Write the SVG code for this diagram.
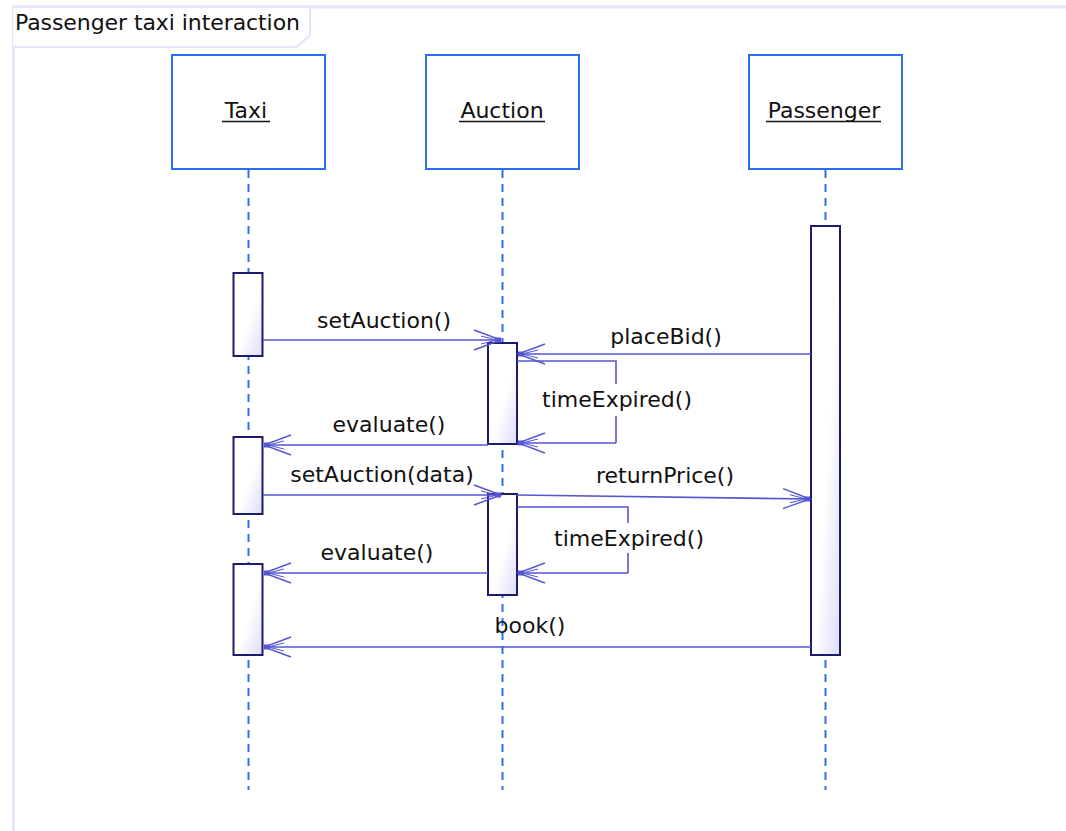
<svg xmlns="http://www.w3.org/2000/svg" width="1066" height="831" viewBox="0 0 1066 831">
<style>
text{font-family:"DejaVu Sans","Liberation Sans",sans-serif;font-size:22px;fill:#111;}
.lbl{text-anchor:middle;}
.head{fill:#fff;stroke:#2a6ef0;stroke-width:2;}
.life{stroke:#2f6ff0;stroke-width:2;stroke-dasharray:8 6;fill:none;}
.act{fill:url(#ag);stroke:#1c1c6c;stroke-width:2;}
.msg{stroke:#5656d2;stroke-width:1.6;fill:none;marker-end:url(#arr);}
.loop{stroke:#5656d2;stroke-width:1.6;fill:none;}
.ul{stroke:#111;stroke-width:1.5;}
</style>
<defs>
<linearGradient id="ag" x1="0" y1="0" x2="1" y2="1">
<stop offset="0.55" stop-color="#ffffff"/>
<stop offset="1" stop-color="#dcdcf6"/>
</linearGradient>
<marker id="arr" markerUnits="userSpaceOnUse" viewBox="-30 -12 32 24" refX="0" refY="0" markerWidth="32" markerHeight="24" orient="auto">
<path d="M-27,-10 L0,0 L-27,10" fill="none" stroke="#5656d2" stroke-width="1.4"/>
<path d="M-20,-4 L-4,0 L-20,4" fill="none" stroke="#5656d2" stroke-width="1"/>
<rect x="-6" y="-2.5" width="6" height="5" fill="#5656d2"/>
</marker>
</defs>
<rect x="0" y="0" width="1066" height="831" fill="#fff"/>
<g id="frame">
<path d="M13.5,831 V7 H1066" fill="none" stroke="#e4e4fb" stroke-width="3"/>
<path d="M13,7 H310 V35 L297,47 H13" fill="#fff" stroke="#e4e4fb" stroke-width="2"/>
<text x="15" y="30" textLength="285">Passenger taxi interaction</text>
</g>
<g id="lifelines">
<line class="life" x1="248.5" y1="170" x2="248.5" y2="790"/>
<line class="life" x1="502.5" y1="170" x2="502.5" y2="790"/>
<line class="life" x1="825.5" y1="170" x2="825.5" y2="790"/>
</g>
<g id="taxi">
<rect class="head" x="172" y="55" width="153" height="114"/>
<text class="lbl" x="246" y="118">Taxi</text>
<line class="ul" x1="222" y1="121.5" x2="270" y2="121.5"/>
</g>
<g id="auction">
<rect class="head" x="426" y="55" width="153" height="114"/>
<text class="lbl" x="502" y="118">Auction</text>
<line class="ul" x1="459" y1="121.5" x2="545" y2="121.5"/>
</g>
<g id="passenger">
<rect class="head" x="749" y="55" width="153" height="114"/>
<text class="lbl" x="824" y="118">Passenger</text>
<line class="ul" x1="766" y1="121.5" x2="881" y2="121.5"/>
</g>
<g id="activations">
<rect class="act" x="811" y="226" width="29" height="429"/>
<rect class="act" x="233.5" y="273" width="29" height="83"/>
<rect class="act" x="233.5" y="437" width="29" height="77"/>
<rect class="act" x="233.5" y="564" width="29" height="91"/>
<rect class="act" x="488" y="343" width="29" height="101"/>
<rect class="act" x="488" y="494" width="29" height="101"/>
</g>
<g id="connectors">
<line class="msg" x1="263" y1="340" x2="501" y2="340"/>
<line class="msg" x1="811" y1="354" x2="518" y2="354"/>
<path class="loop" d="M517,361 H616 V384 M616,416 V443"/>
<line class="msg" x1="616" y1="443" x2="518" y2="443"/>
<line class="msg" x1="488" y1="445" x2="264" y2="445"/>
<line class="msg" x1="263" y1="495" x2="501" y2="495"/>
<line class="msg" x1="517" y1="495" x2="810" y2="499"/>
<path class="loop" d="M517,507 H628 V523 M628,553 V573"/>
<line class="msg" x1="628" y1="573" x2="518" y2="573"/>
<line class="msg" x1="488" y1="573" x2="264" y2="573"/>
<line class="msg" x1="811" y1="647" x2="264" y2="647"/>
</g>
<g id="labels">
<text class="lbl" x="384" y="328">setAuction()</text>
<text class="lbl" x="666" y="344">placeBid()</text>
<text class="lbl" x="617" y="407">timeExpired()</text>
<text class="lbl" x="389" y="432">evaluate()</text>
<text class="lbl" x="382" y="482">setAuction(data)</text>
<text class="lbl" x="665" y="483">returnPrice()</text>
<text class="lbl" x="629" y="546">timeExpired()</text>
<text class="lbl" x="377" y="560">evaluate()</text>
<text class="lbl" x="530" y="633">book()</text>
</g>
</svg>
